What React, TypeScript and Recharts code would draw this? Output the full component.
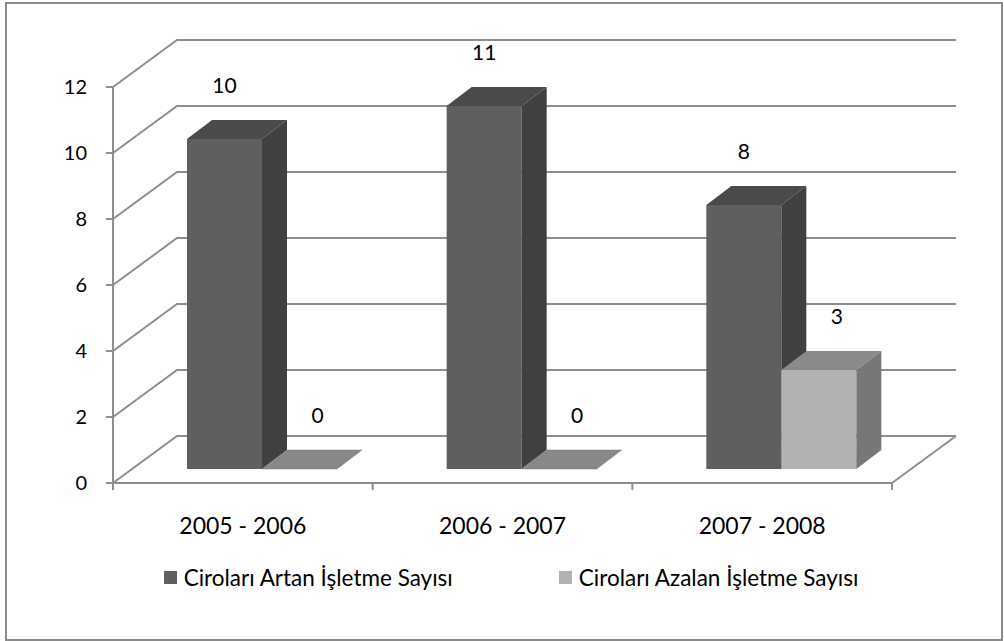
import { BarChart, Bar, XAxis, YAxis, CartesianGrid, Legend, LabelList } from 'recharts'

const CATEGORIES = ['2005 - 2006', '2006 - 2007', '2007 - 2008']
const ARTAN = [10, 11, 8]
const AZALAN = [0, 0, 3]
const Y_TICKS = [0, 2, 4, 6, 8, 10, 12]
const SERIES_NAMES = ['Ciroları Artan İşletme Sayısı', 'Ciroları Azalan İşletme Sayısı']

const DATA = CATEGORIES.map((c, i) => ({ cat: c, artan: ARTAN[i], azalan: AZALAN[i] }))

// chart geometry (chart coordinates)
const W = 994
const H = 635
const M = { top: 83, right: 109, bottom: 42, left: 46 }
const PLOT_L = 106
const PLOT_R = W - M.right
const PLOT_B = 479
const BAND = (PLOT_R - PLOT_L) / CATEGORIES.length

// 3D look: depth of the walls, and where the bars sit inside that depth
const DX = 64
const DY = 47
const OX = 19
const OY = 14
const BX = 25
const BY = 19

const GRID = '#8e8e8e'
const FONT = 'Lato, "Open Sans", sans-serif'

const SKIN = [
  { front: '#5f5f5f', side: '#404040', top: '#4a4a4a' },
  { front: '#b2b2b2', side: '#777777', top: '#8a8a8a' },
]

function box(skin: { front: string; side: string; top: string }) {
  return (p: any) => {
    const x = p.x + OX
    const y = p.y - OY
    const w = p.width
    const h = p.height
    if (!h) {
      return (
        <polygon points={`${x},${y} ${x + w},${y} ${x + w + BX},${y - BY} ${x + BX},${y - BY}`}
          fill="#888888" stroke="#7c7c7c" strokeWidth={0.5} />
      )
    }
    return (
      <g>
        <rect x={x} y={y} width={w} height={h} fill={skin.front} />
        <polygon points={`${x},${y} ${x + w},${y} ${x + w + BX},${y - BY} ${x + BX},${y - BY}`} fill={skin.top} />
        <polygon points={`${x + w},${y} ${x + w + BX},${y - BY} ${x + w + BX},${y - BY + h} ${x + w},${y + h}`} fill={skin.side} />
      </g>
    )
  }
}

function valueLabel(shift: number) {
  return (p: any) => (
    <text x={p.x + OX + p.width / 2 + shift} y={p.y - OY - 55} textAnchor="middle" dominantBaseline="central"
      fontSize={21} fill="#000" fontFamily={FONT}>
      {p.value}
    </text>
  )
}

function gridLine(p: any) {
  const { x1, y1, x2 } = p
  let d = `M${x1},${y1} L${x1 + DX},${y1 - DY} L${x2 + DX},${y1 - DY}`
  if (Math.abs(y1 - PLOT_B) < 1) d += ` M${x2},${y1} L${x2 + DX},${y1 - DY} M${x2},${y1} L${x2},${y1 + 7}`
  return <path key={p.key} d={d} fill="none" stroke={GRID} strokeWidth={2} />
}

function CatTick(p: any) {
  const { x, payload, index } = p
  const left = x - BAND / 2
  return (
    <g>
      <line x1={left} y1={PLOT_B} x2={left} y2={PLOT_B + 7} stroke={GRID} strokeWidth={2} />
      {index === CATEGORIES.length - 1 && (
        <line x1={x + BAND / 2} y1={PLOT_B} x2={x + BAND / 2} y2={PLOT_B + 7} stroke={GRID} strokeWidth={2} />
      )}
      <text x={x} y={PLOT_B + 42} textAnchor="middle" dominantBaseline="central" fontSize={23} fill="#000" fontFamily={FONT}>
        {payload.value}
      </text>
    </g>
  )
}

function LegendBox(p: any) {
  const items = p.payload || []
  return (
    <div style={{ height: 40, display: 'flex', alignItems: 'center', justifyContent: 'center', paddingLeft: 14, fontFamily: FONT, fontSize: 22.5, color: '#000' }}>
      {items.map((it: any, i: number) => (
        <div key={it.value} style={{ display: 'flex', alignItems: 'center', marginRight: i === 0 ? 106 : 0 }}>
          <span style={{ width: 13, height: 13, background: it.color, marginRight: 7, display: 'inline-block' }} />
          <span>{it.value}</span>
        </div>
      ))}
    </div>
  )
}

export default function App() {
  return (
    <div style={{ position: 'absolute', left: 5, top: 2, width: 998, height: 639, boxSizing: 'border-box', border: '2px solid #8a8a8a', background: '#fff' }}>
      <BarChart width={W} height={H} data={DATA} margin={M} barGap={0} barSize={75} style={{ fontFamily: FONT }}>
        <CartesianGrid vertical={false} horizontal={gridLine} />
        <XAxis dataKey="cat" height={74} axisLine={{ stroke: GRID, strokeWidth: 2 }} tickLine={false} tick={<CatTick />} interval={0} />
        <YAxis domain={[0, 12]} ticks={Y_TICKS} width={60} axisLine={{ stroke: GRID, strokeWidth: 2 }}
          tickLine={{ stroke: GRID, strokeWidth: 2 }} tickSize={7} tickMargin={19}
          tick={{ fill: '#000', fontSize: 20, fontFamily: FONT }} />
        <Legend verticalAlign="bottom" content={<LegendBox />} wrapperStyle={{ left: 0, width: W }} />
        <Bar dataKey="artan" name={SERIES_NAMES[0]} fill={SKIN[0].front} shape={box(SKIN[0])} isAnimationActive={false}>
          <LabelList dataKey="artan" content={valueLabel(0)} />
        </Bar>
        <Bar dataKey="azalan" name={SERIES_NAMES[1]} fill={SKIN[1].front} shape={box(SKIN[1])} isAnimationActive={false}>
          <LabelList dataKey="azalan" content={valueLabel(18)} />
        </Bar>
      </BarChart>
    </div>
  )
}
